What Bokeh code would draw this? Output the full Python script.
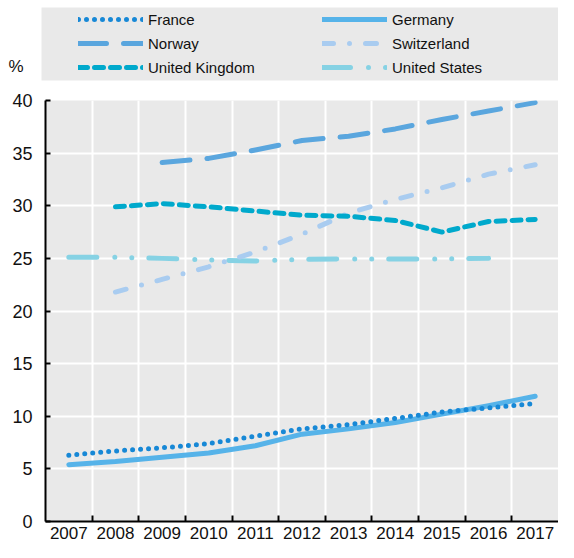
import numpy as np
from bokeh.plotting import figure
from bokeh.models import Range1d, FixedTicker, Legend, LegendItem, Label, BoxAnnotation
from bokeh.layouts import column
from bokeh.embed import file_html
from bokeh.resources import INLINE

# ---------------- data ----------------
years = [2007, 2008, 2009, 2010, 2011, 2012, 2013, 2014, 2015, 2016, 2017]
france = [6.3, 6.7, 7.0, 7.4, 8.1, 8.8, 9.2, 9.8, 10.4, 10.8, 11.2]
germany = [5.4, 5.7, 6.1, 6.5, 7.2, 8.3, 8.8, 9.4, 10.2, 11.0, 11.9]
norway = [None, None, 34.1, 34.5, 35.3, 36.2, 36.6, 37.3, 38.2, 39.0, 39.8]
switzerland = [None, 21.8, 23.0, 24.2, 25.6, 27.3, 29.3, 30.6, 31.7, 33.0, 33.9]
united_kingdom = [None, 29.9, 30.2, 29.9, 29.5, 29.1, 29.0, 28.6, 27.5, 28.5, 28.7]
united_states = [25.1, 25.1, 25.0, 24.85, 24.75, 24.9, 24.95, 24.95, 24.95, 25.0, None]
y_ticks = [0, 5, 10, 15, 20, 25, 30, 35, 40]
unit_label = "%"

series = [
    ("France", france),
    ("Germany", germany),
    ("Norway", norway),
    ("Switzerland", switzerland),
    ("United Kingdom", united_kingdom),
    ("United States", united_states),
]

styles = {
    "France": dict(line_color="#1788d6", line_width=5, line_dash="0 8"),
    "Germany": dict(line_color="#56b3e9", line_width=5, line_dash="solid"),
    "Norway": dict(line_color="#5aa6de", line_width=5, line_dash="28 17"),
    "Switzerland": dict(line_color="#a9ccf0", line_width=5, line_dash="11 16 0 16"),
    "United Kingdom": dict(line_color="#00a9cc", line_width=5, line_dash="9 7"),
    "United States": dict(line_color="#86d2e4", line_width=5, line_dash="28 18 0 17 0 17"),
}
draw_order = ["United States", "Switzerland", "United Kingdom", "Norway", "Germany", "France"]

FONT = "Liberation Sans"
BG = "#e9e9e9"
W = 558
LH = 84
MH = 458

def arr(v):
    return np.array([np.nan if x is None else x for x in v], dtype=float)

# ---------------- legend strip (pixel-like coordinate space) ----------------
leg = figure(width=W, height=LH, x_range=Range1d(0, W), y_range=Range1d(0, LH),
             output_backend="svg", toolbar_location=None,
             x_axis_type=None, y_axis_type=None, min_border=0)
leg.frame_align = False
leg.background_fill_color = "white"
leg.border_fill_color = "white"
leg.outline_line_color = None

leg.add_layout(BoxAnnotation(left=41, right=W, top=LH - 7, bottom=LH - 80,
                             fill_color=BG, fill_alpha=1, line_color=None, level="underlay"))

items = []
for name, vals in series:
    # legend sample renderers: same series, placed far outside this strip's visible range
    r = leg.line(years, arr(vals) + 1000, line_cap="round", line_join="round", **styles[name])
    items.append(LegendItem(label=name, renderers=[r]))

legend = Legend(items=items, location=(78, 5), orientation="horizontal", ncols=2,
                padding=0, spacing=0, margin=0,
                glyph_width=65, glyph_height=24, label_height=24, label_width=174,
                label_standoff=5, background_fill_alpha=0, border_line_color=None,
                label_text_font=FONT, label_text_font_size="15px", label_text_color="#111111")
leg.add_layout(legend)

leg.add_layout(Label(x=8, y=LH - 66, text=unit_label,
                     text_font=FONT, text_font_size="17px", text_color="#111111",
                     text_align="left", text_baseline="alphabetic"))

# ---------------- main chart ----------------
p = figure(width=W, height=MH, x_range=Range1d(2006.5, 2017.5), y_range=Range1d(0, 40),
           output_backend="svg", toolbar_location=None,
           min_border_left=45, min_border_right=0, min_border_top=16, min_border_bottom=21)
p.background_fill_color = BG
p.border_fill_color = "white"
p.outline_line_color = None

boundaries = [y + 0.5 for y in years[:-1]]

xa = p.xaxis[0]
xa.ticker = FixedTicker(ticks=years, minor_ticks=boundaries)
xa.major_tick_in = 0
xa.major_tick_out = 0
xa.minor_tick_in = 6
xa.minor_tick_out = 0
xa.minor_tick_line_color = "black"
xa.minor_tick_line_width = 2
xa.axis_line_color = "black"
xa.axis_line_width = 2
xa.major_label_text_font = FONT
xa.major_label_text_font_size = "17px"
xa.major_label_text_color = "#111111"
xa.major_label_standoff = 5

ya = p.yaxis[0]
ya.ticker = FixedTicker(ticks=y_ticks)
ya.major_tick_in = 5
ya.major_tick_out = 0
ya.major_tick_line_color = "black"
ya.major_tick_line_width = 2
ya.minor_tick_in = 0
ya.minor_tick_out = 0
ya.axis_line_color = "black"
ya.axis_line_width = 2
ya.major_label_text_font = FONT
ya.major_label_text_font_size = "18px"
ya.major_label_text_color = "#111111"
ya.major_label_text_align = "center"
ya.major_label_standoff = 13

p.xgrid.ticker = FixedTicker(ticks=boundaries)
p.xgrid.grid_line_color = "white"
p.xgrid.grid_line_width = 2
p.ygrid.ticker = FixedTicker(ticks=y_ticks)
p.ygrid.grid_line_color = "white"
p.ygrid.grid_line_width = 2

data = dict(series)
for name in draw_order:
    p.line(years, arr(data[name]), line_cap="round", line_join="round", **styles[name])

layout = column(leg, p, spacing=0)
open("out.html", "w").write(file_html(layout, INLINE))
